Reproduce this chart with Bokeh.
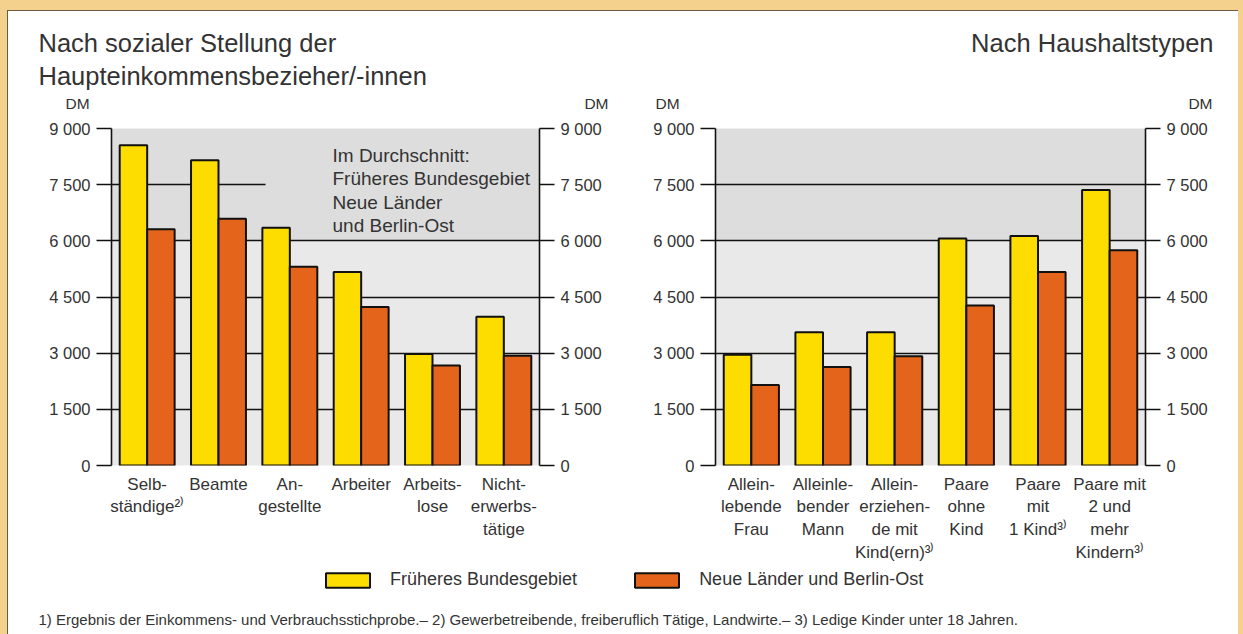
from bokeh.plotting import figure
from bokeh.models import (FactorRange, Range1d, LinearAxis, FixedTicker, Label,
                          Legend, LegendItem, BoxAnnotation, Spacer, ColumnDataSource)
from bokeh.layouts import row, column
from bokeh.transform import dodge
from bokeh.embed import file_html
from bokeh.resources import INLINE

# ---------------- data ----------------
social_cats = ["Selb-\nständige²⁾", "Beamte", "An-\ngestellte", "Arbeiter", "Arbeits-\nlose",
               "Nicht-\nerwerbs-\ntätige"]
social_west = [8550, 8150, 6350, 5170, 2980, 3970]
social_east = [6310, 6590, 5310, 4230, 2670, 2930]

house_cats = ["Allein-\nlebende\nFrau", "Alleinle-\nbender\nMann", "Allein-\nerziehen-\nde mit\nKind(ern)³⁾",
              "Paare\nohne\nKind", "Paare\nmit\n1 Kind³⁾", "Paare mit\n2 und\nmehr\nKindern³⁾"]
house_west = [2960, 3560, 3560, 6060, 6130, 7360]
house_east = [2150, 2630, 2920, 4270, 5170, 5750]

y_ticks = [0, 1500, 3000, 4500, 6000, 7500, 9000]
y_tick_labels = ["0", "1 500", "3 000", "4 500", "6 000", "7 500", "9 000"]

series_names = ["Früheres Bundesgebiet", "Neue Länder und Berlin-Ost"]
title_left = "Nach sozialer Stellung der\nHaupteinkommensbezieher/-innen"
title_right = "Nach Haushaltstypen"
avg_note = "Im Durchschnitt:\nFrüheres Bundesgebiet\nNeue Länder\nund Berlin-Ost"
footnote = ("1) Ergebnis der Einkommens- und Verbrauchsstichprobe.– 2) Gewerbetreibende, freiberuflich Tätige, "
            "Landwirte.– 3) Ledige Kinder unter 18 Jahren.")

# ---------------- styles ----------------
FONT = "Liberation Sans"
TXT = "#333333"
LINE = "#111111"
YELLOW = "#fddc00"
ORANGE = "#e5641b"
BG = "#e9e9e9"
BG_TOP = "#dddddd"
FRAME_COL = "#f4d28e"
EDGE_COL = "#6e5c40"
ROW_H = 450
TOP_B = 12
FRAME_H = 337


def panel(cats, west, east, width, left_b, frame_w):
    right_b = width - left_b - frame_w
    p = figure(x_range=FactorRange(factors=cats), y_range=Range1d(0, 9000),
               width=width, height=ROW_H, min_border_left=left_b, min_border_right=right_b,
               min_border_top=TOP_B, min_border_bottom=ROW_H - TOP_B - FRAME_H,
               output_backend="svg", toolbar_location=None, y_axis_location=None,
               background_fill_color=BG, border_fill_color="white", outline_line_color=None)
    p.xgrid.visible = False
    p.ygrid.ticker = FixedTicker(ticks=y_ticks)
    p.ygrid.grid_line_color = LINE
    p.ygrid.grid_line_width = 1.6

    p.add_layout(BoxAnnotation(bottom=6000, top=9000, fill_color=BG_TOP, fill_alpha=1,
                               line_color=None, level="image"))

    overrides = {t: l for t, l in zip(y_ticks, y_tick_labels)}
    for side in ("left", "right"):
        ax = LinearAxis(ticker=FixedTicker(ticks=y_ticks), major_label_overrides=overrides)
        ax.major_tick_out = 15
        ax.major_tick_in = 0
        ax.minor_tick_line_color = None
        ax.axis_line_width = 1.6
        ax.major_tick_line_width = 1.6
        ax.axis_line_color = LINE
        ax.major_tick_line_color = LINE
        ax.major_label_text_font = FONT
        ax.major_label_text_font_size = "16.5px"
        ax.major_label_text_color = TXT
        ax.major_label_standoff = 6
        p.add_layout(ax, side)

    xa = p.xaxis[0]
    xa.axis_line_color = None
    xa.major_tick_line_color = None
    xa.major_label_text_font = FONT
    xa.major_label_text_font_size = "17px"
    xa.major_label_text_color = TXT
    xa.major_label_text_line_height = 1.2
    xa.major_label_standoff = 3

    src = ColumnDataSource(dict(cat=cats, west=west, east=east))
    p.vbar(x=dodge("cat", -0.1925, range=p.x_range), top="west", width=0.385, source=src,
           fill_color=YELLOW, line_color=LINE, line_width=2)
    p.vbar(x=dodge("cat", 0.1925, range=p.x_range), top="east", width=0.385, source=src,
           fill_color=ORANGE, line_color=LINE, line_width=2)
    return p


def px_x(page_x, frame_left, frame_w):
    return (page_x - frame_left) / frame_w * 6


def px_y(page_y, frame_top=128, frame_h=FRAME_H):
    return (frame_top + frame_h - page_y) / frame_h * 9000


# left panel: page x 8..620, frame 111..539
p1 = panel(social_cats, social_west, social_east, 612, 103, 428)
# right panel: page x 620..1238, frame 715..1145
p2 = panel(house_cats, house_west, house_east, 618, 95, 430)

# the average note in the left panel hides part of the 7 500 line
p1.add_layout(BoxAnnotation(left=px_x(265, 111, 428), right=6, bottom=6150, top=8920,
                            fill_color=BG_TOP, fill_alpha=1, line_color=None, level="underlay"))
p1.add_layout(Label(x=px_x(332, 111, 428), y=px_y(144), text=avg_note,
                    text_font=FONT, text_font_size="19px", text_color=TXT, text_baseline="top",
                    text_line_height=1.12))

# ---------------- header (page y 11..116), pixel coordinates ----------------
HEAD_H = 105
p0 = figure(width=1230, height=HEAD_H, x_range=Range1d(0, 1230), y_range=Range1d(0, HEAD_H),
            output_backend="svg", toolbar_location=None, min_border=0,
            x_axis_location=None, y_axis_location=None, outline_line_color=None,
            background_fill_color="white", border_fill_color="white")
p0.xgrid.visible = False
p0.ygrid.visible = False


def hy(page_y):
    return 116 - page_y


p0.add_layout(Label(x=30, y=hy(28), text=title_left, text_font=FONT, text_font_size="25.5px",
                    text_color=TXT, text_baseline="top", text_line_height=1.2))
p0.add_layout(Label(x=1205, y=hy(28), text=title_right, text_font=FONT, text_font_size="25.5px",
                    text_color=TXT, text_baseline="top", text_align="right"))
for xl, xr in ((57, 600), (647, 1204)):
    p0.add_layout(Label(x=xl, y=hy(103), text="DM", text_font=FONT, text_font_size="15.5px",
                        text_color=TXT, text_baseline="middle"))
    p0.add_layout(Label(x=xr, y=hy(103), text="DM", text_font=FONT, text_font_size="15.5px",
                        text_color=TXT, text_baseline="middle", text_align="right"))

# ---------------- bottom: legend + footnote (page y 566..634) ----------------
P3_H = 68
p3 = figure(width=1230, height=P3_H, x_range=Range1d(0, 1230), y_range=Range1d(0, P3_H),
            output_backend="svg", toolbar_location=None, min_border=0,
            x_axis_location=None, y_axis_location=None, outline_line_color=None,
            background_fill_color="white", border_fill_color="white")
p3.xgrid.visible = False
p3.ygrid.visible = False
r_w = p3.vbar(x=[0], top=[0], width=1, fill_color=YELLOW, line_color=LINE, line_width=2, visible=False)
r_e = p3.vbar(x=[0], top=[0], width=1, fill_color=ORANGE, line_color=LINE, line_width=2, visible=False)
leg = Legend(items=[LegendItem(label=series_names[0], renderers=[r_w]),
                    LegendItem(label=series_names[1], renderers=[r_e])],
             orientation="horizontal", location=(312, 44), glyph_width=55, glyph_height=18,
             label_standoff=15, spacing=52, padding=0, margin=0, border_line_color=None,
             background_fill_alpha=0, label_text_font=FONT, label_text_font_size="18px",
             label_text_color=TXT, label_height=18, click_policy="none")
p3.add_layout(leg, "center")
p3.add_layout(Label(x=30, y=15, text=footnote, text_font=FONT, text_font_size="15px",
                    text_color=TXT, text_baseline="middle"))

content = column(p0, row(p1, p2), p3, styles={"background-color": "white"})
framed = column(Spacer(width=1231, height=10),
                Spacer(width=1231, height=1, styles={"background-color": EDGE_COL}),
                row(Spacer(width=1, height=623, styles={"background-color": EDGE_COL}), content))
root = row(Spacer(width=7, height=634), framed, Spacer(width=5, height=634),
           styles={"background-color": FRAME_COL})

open("out.html", "w").write(file_html(root, INLINE))
